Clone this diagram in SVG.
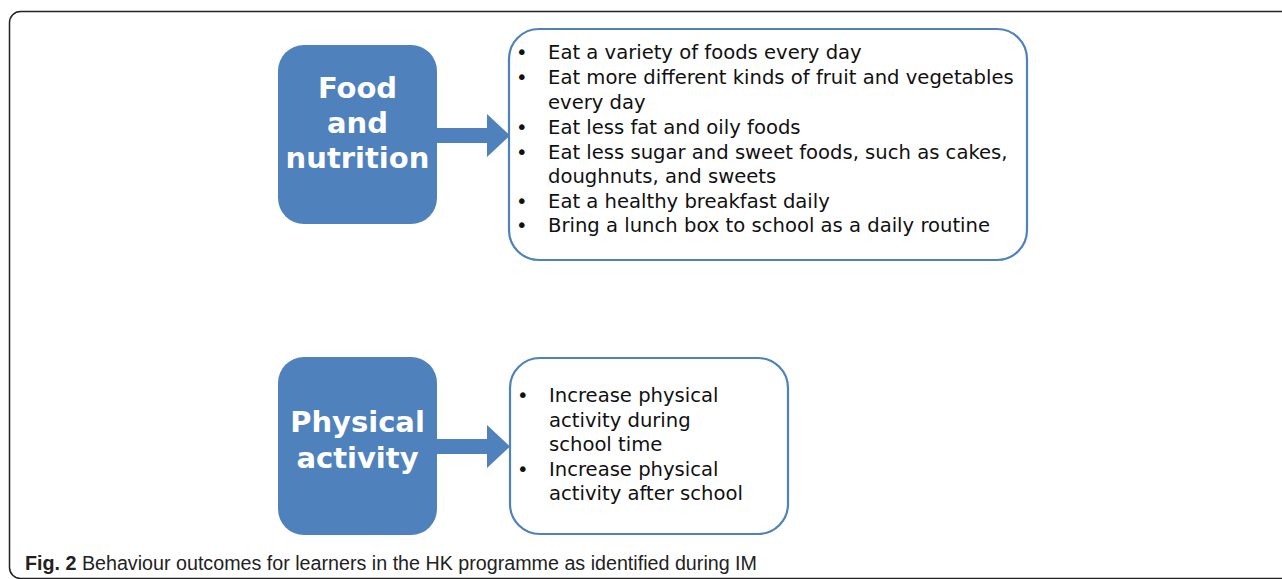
<svg xmlns="http://www.w3.org/2000/svg" width="1282" height="579" viewBox="0 0 1282 579">
<style>
.frame{fill:none;stroke:#222;stroke-width:1.5}
.cat{fill:#4F81BD}
.catt{fill:#fff;font-family:"DejaVu Sans",Verdana,sans-serif;font-weight:bold;font-size:29px;text-anchor:middle}
.list{fill:#fff;stroke:#4F81BD;stroke-width:2.2}
.lt{fill:#111;font-family:"DejaVu Sans",Verdana,sans-serif;font-size:19.6px}
.arrow{fill:#4F81BD}
.cap{fill:#222;font-family:"Liberation Sans",Arial,sans-serif;font-size:20px}
</style>
<rect width="1282" height="579" fill="#fff"/>
<rect class="frame" x="9.5" y="11.5" width="1300" height="567" rx="11"/>
<g id="connectors">
<polygon class="arrow" points="437,128 487,128 487,114 510,135.5 487,157 487,143 437,143"/>
<polygon class="arrow" points="437,439 487,439 487,425 510,446.5 487,468 487,454 437,454"/>
</g>
<g id="food">
<rect class="cat" x="278" y="45" width="159" height="179" rx="26"/>
<text class="catt" x="357.5" y="98">Food</text>
<text class="catt" x="357.5" y="133">and</text>
<text class="catt" x="357.5" y="168">nutrition</text>
</g>
<g id="food-list">
<rect class="list" x="509" y="29" width="518" height="231" rx="30"/>
<g class="lt">
<text x="516" y="59">•</text><text x="548" y="59">Eat a variety of foods every day</text>
<text x="516" y="84">•</text><text x="548" y="84">Eat more different kinds of fruit and vegetables</text>
<text x="548" y="109">every day</text>
<text x="516" y="134">•</text><text x="548" y="134">Eat less fat and oily foods</text>
<text x="516" y="159">•</text><text x="548" y="159">Eat less sugar and sweet foods, such as cakes,</text>
<text x="548" y="183">doughnuts, and sweets</text>
<text x="516" y="208">•</text><text x="548" y="208">Eat a healthy breakfast daily</text>
<text x="516" y="232">•</text><text x="548" y="232">Bring a lunch box to school as a daily routine</text>
</g>
</g>
<g id="physical">
<rect class="cat" x="278" y="357" width="159" height="178" rx="26"/>
<text class="catt" x="357.5" y="432">Physical</text>
<text class="catt" x="357.5" y="468">activity</text>
</g>
<g id="physical-list">
<rect class="list" x="510" y="358" width="278" height="176" rx="30"/>
<g class="lt">
<text x="517" y="402">•</text><text x="549" y="402">Increase physical</text>
<text x="549" y="427">activity during</text>
<text x="549" y="451">school time</text>
<text x="517" y="476">•</text><text x="549" y="476">Increase physical</text>
<text x="549" y="500">activity after school</text>
</g>
</g>
<text class="cap" x="25" y="570" textLength="732" lengthAdjust="spacingAndGlyphs"><tspan font-weight="bold">Fig. 2</tspan> Behaviour outcomes for learners in the HK programme as identified during IM</text>
</svg>
